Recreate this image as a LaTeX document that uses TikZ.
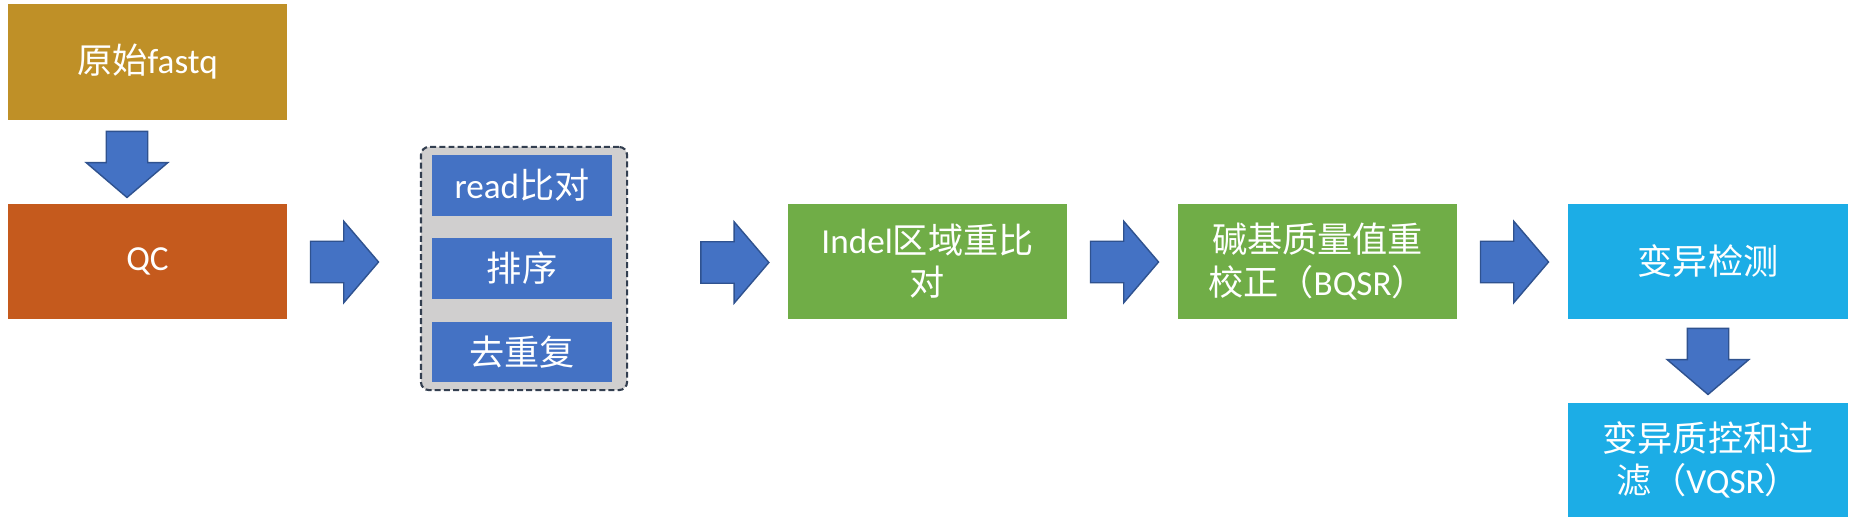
\documentclass[tikz,border=0pt]{standalone}
\usepackage{fontspec}
\setmainfont{Carlito}
\newfontfamily\cjk{Noto Sans CJK SC}
\usetikzlibrary{shapes.arrows,calc}
\definecolor{goldbox}{HTML}{BF9027}
\definecolor{qcorange}{HTML}{C55A1D}
\definecolor{stepblue}{HTML}{4472C4}
\definecolor{stepgreen}{HTML}{70AD47}
\definecolor{skyblue}{HTML}{1CADE6}
\definecolor{arrowedge}{HTML}{2F528F}
\definecolor{grpgray}{HTML}{D0CFCF}
\definecolor{grpedge}{HTML}{333F50}
\begin{document}
\begin{tikzpicture}[x=0.01cm,y=-0.01cm,
  box/.style={rectangle, inner sep=0pt, text=white, align=center,
    font=\fontsize{10}{12}\selectfont, minimum width=2.79cm, minimum height=1.15cm},
  innerbox/.style={box, fill=stepblue, minimum width=1.80cm, minimum height=0.60cm},
  grpbox/.style={rectangle, rounded corners=0.08cm, fill=grpgray, draw=grpedge,
    line width=0.6pt, dash pattern=on 1.7pt off 0.9pt, minimum width=2.06cm,
    minimum height=2.43cm, inner sep=0pt},
  blockarrow/.style={single arrow, draw=arrowedge, fill=stepblue, line width=0.4pt,
    inner sep=0.2cm, minimum height=0.68cm, minimum width=0.8cm,
    single arrow head extend=0.2cm, single arrow tip angle=99, anchor=tail},
  downarrow/.style={blockarrow, shape border rotate=270, minimum height=0.66cm}
]
\useasboundingbox (0,0) rectangle (1854,527);
\fill[white] (0,0) rectangle (1854,527);

\node[box, fill=goldbox, minimum height=1.16cm] (raw) at (147.5,62) {{\cjk 原始}fastq};
\node[box, fill=qcorange] (qc) at (147.5,261.5) {QC};

\node[grpbox] (grp) at (524,268.5) {};
\node[innerbox] (aln) at (522,185.5) {read{\cjk 比对}};
\node[innerbox] (sort) at (522,268.5) {\cjk 排序};
\node[innerbox] (dedup) at (522,352) {\cjk 去重复};

\node[box, fill=stepgreen] (indel) at (927.5,261.5) {Indel{\cjk 区域重比}\\{\cjk 对}};
\node[box, fill=stepgreen] (bqsr) at (1317.5,261.5) {{\cjk 碱基质量值重}\\{\cjk 校正（}BQSR{\cjk ）}};
\node[box, fill=skyblue, minimum width=2.80cm] (call) at (1708,261.5) {\cjk 变异检测};
\node[box, fill=skyblue, minimum width=2.80cm, minimum height=1.14cm] (vqsr) at (1708,460) {{\cjk 变异质控和过}\\{\cjk 滤（}VQSR{\cjk ）}};

\node[downarrow] (d1) at ($(raw.south)+(-20.5,10)$) {};
\node[blockarrow] (a1) at ($(qc.east)+(22,0.5)$) {};
\node[blockarrow] (a2) at ($(grp.east)+(72,-6)$) {};
\node[blockarrow] (a3) at ($(indel.east)+(22,0.5)$) {};
\node[blockarrow] (a4) at ($(bqsr.east)+(22,0.5)$) {};
\node[downarrow] (d2) at ($(call.south)+(0,8)$) {};
\end{tikzpicture}
\end{document}
